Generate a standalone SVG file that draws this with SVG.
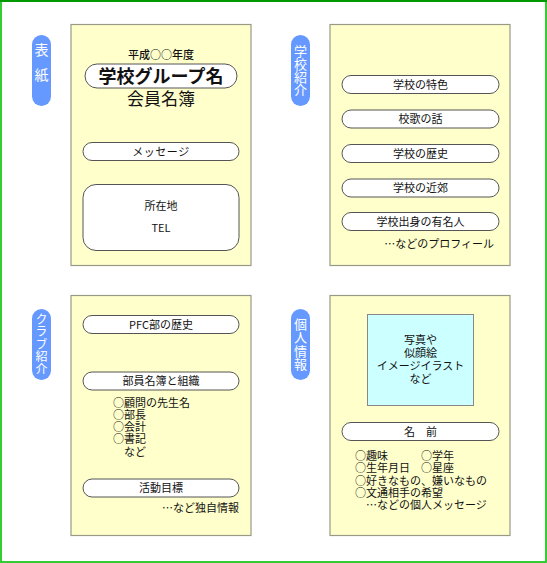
<svg xmlns="http://www.w3.org/2000/svg" width="547" height="563" viewBox="0 0 547 563">
<style>
text{font-family:"Noto Sans CJK JP","Liberation Sans",sans-serif;fill:#111;font-size:11px}
.c{text-anchor:middle}
.e{text-anchor:end}
.panel{fill:#ffffcc;stroke:#999988;stroke-width:1.2}
.pill{fill:#fff;stroke:#555;stroke-width:1}
.tab{fill:#6699ff}
.tt{fill:#fff;font-size:13px;text-anchor:middle;writing-mode:vertical-rl;text-orientation:upright}
</style>
<rect x="0" y="0" width="547" height="563" fill="#fff"/>
<rect x="1" y="1" width="545" height="561" fill="none" stroke="#33cc33" stroke-width="2"/>
<line x1="0" y1="1" x2="547" y2="1" stroke="#009900" stroke-width="2"/>

<g id="cover">
<rect class="panel" x="71" y="24.5" width="180" height="241"/>
<rect class="tab" x="32" y="35" width="19" height="71" rx="9.5"/>
<text class="tt" x="41.5" y="68" style="font-size:14px;letter-spacing:11px">表紙</text>
<text class="c" x="161" y="59" style="font-weight:500">平成○○年度</text>
<rect class="pill" x="85" y="64" width="152" height="24" rx="12"/>
<text class="c" x="161" y="83" style="font-size:18px;font-weight:bold">学校グループ名</text>
<text class="c" x="161" y="105" style="font-size:17px">会員名簿</text>
<rect class="pill" x="83" y="142.5" width="156" height="18" rx="9"/>
<text class="c" x="161" y="155.5" style="letter-spacing:0.5px">メッセージ</text>
<rect class="pill" x="83" y="184.5" width="156" height="66" rx="13"/>
<text class="c" x="161" y="210">所在地</text>
<text class="c" x="161" y="232">TEL</text>
</g>

<g id="school">
<rect class="panel" x="330" y="24.5" width="180" height="241"/>
<rect class="tab" x="291" y="35" width="19" height="71" rx="9.5"/>
<text class="tt" x="300.5" y="70.5">学校紹介</text>
<rect class="pill" x="342" y="75.5" width="157" height="18" rx="9"/>
<text class="c" x="420.5" y="88.5">学校の特色</text>
<rect class="pill" x="342" y="110" width="157" height="18" rx="9"/>
<text class="c" x="420.5" y="123">校歌の話</text>
<rect class="pill" x="342" y="144.5" width="157" height="18" rx="9"/>
<text class="c" x="420.5" y="157.5">学校の歴史</text>
<rect class="pill" x="342" y="179" width="157" height="18" rx="9"/>
<text class="c" x="420.5" y="192">学校の近郊</text>
<rect class="pill" x="342" y="212.5" width="157" height="18" rx="9"/>
<text class="c" x="420.5" y="225.5">学校出身の有名人</text>
<text class="e" x="494" y="248">…などのプロフィール</text>
</g>

<g id="club">
<rect class="panel" x="71" y="295.5" width="180" height="240"/>
<rect class="tab" x="32" y="309" width="19" height="71" rx="9.5"/>
<text class="tt" x="41.5" y="344.5" style="font-size:12px;letter-spacing:0.5px">クラブ紹介</text>
<rect class="pill" x="83" y="315.5" width="156" height="18" rx="9"/>
<text class="c" x="161" y="328.5">PFC部の歴史</text>
<rect class="pill" x="83" y="372" width="156" height="18" rx="9"/>
<text class="c" x="161" y="385">部員名簿と組織</text>
<text x="113" y="407"><tspan x="113">○顧問の先生名</tspan><tspan x="113" dy="12">○部長</tspan><tspan x="113" dy="12">○会計</tspan><tspan x="113" dy="12">○書記</tspan><tspan x="124" dy="13">など</tspan></text>
<rect class="pill" x="83" y="479" width="156" height="18" rx="9"/>
<text class="c" x="161" y="492">活動目標</text>
<text class="e" x="239" y="512">…など独自情報</text>
</g>

<g id="personal">
<rect class="panel" x="330" y="295.5" width="180" height="240"/>
<rect class="tab" x="291" y="309" width="19" height="71" rx="9.5"/>
<text class="tt" x="300.5" y="344.5" style="letter-spacing:0.5px">個人情報</text>
<rect x="367.5" y="314.5" width="106" height="91" fill="#ccffff" stroke="#888" stroke-width="1"/>
<text class="c" x="420.5" y="344"><tspan x="420.5">写真や</tspan><tspan x="420.5" dy="13">似顔絵</tspan><tspan x="420.5" dy="13">イメージイラスト</tspan><tspan x="420.5" dy="13">など</tspan></text>
<rect class="pill" x="342" y="422.5" width="157" height="18" rx="9"/>
<text class="c" x="420.5" y="435.5">名　前</text>
<text x="355" y="460"><tspan x="355">○趣味</tspan><tspan x="421">○学年</tspan><tspan x="355" dy="12">○生年月日</tspan><tspan x="421">○星座</tspan><tspan x="355" dy="13">○好きなもの、嫌いなもの</tspan><tspan x="355" dy="12">○文通相手の希望</tspan><tspan x="366" dy="12">…などの個人メッセージ</tspan></text>
</g>
</svg>
